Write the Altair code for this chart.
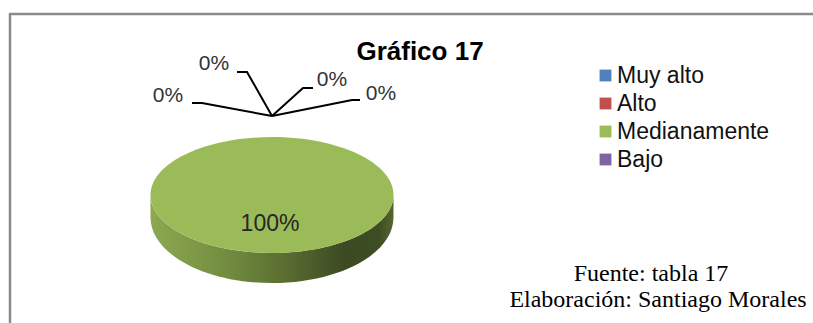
import altair as alt
import pandas as pd

# ---- data ----
categories = ["Muy alto", "Alto", "Medianamente", "Bajo", ""]
values = [0, 0, 100, 0, 0]
legend_categories = ["Muy alto", "Alto", "Medianamente", "Bajo"]
colors = ["#4F81BD", "#C0504D", "#9BBB59", "#8064A2"]

title_text = "Gráfico 17"
source_lines = ["Fuente: tabla 17", "Elaboración: Santiago Morales"]

# ---- layout (pixels) ----
W, H = 813, 323
cx, cy = 272, 195          # centre of the pie's top face
pie_w = 243                # width of the pie
label_x = [214, 332, 270, 381, 168]
label_y = [64, 80, 224, 94, 96]
anchor = (272, 116)
elbow_x = [247, 303, None, 352, 202]
elbow_y = [72, 88, None, 100, 103]
end_x = [237, 313, None, 360, 192]
end_y = [72, 88, None, 100, 103]

df = pd.DataFrame({"category": categories, "value": values,
                   "lx": label_x, "ly": label_y})
df["pct"] = (df["value"] / df["value"].sum() * 100).round().astype(int).astype(str) + "%"

# leader lines table
rows = []
for i, c in enumerate(categories):
    if elbow_x[i] is None:
        continue
    pts = [anchor, (elbow_x[i], elbow_y[i]), (end_x[i], end_y[i])]
    for k, (px, py) in enumerate(pts):
        rows.append({"id": i, "k": k, "x": px, "y": py})
lines_df = pd.DataFrame(rows)

top_path = "M -1 0 A 1 0.477 0 1 1 1 0 A 1 0.477 0 1 1 -1 0 Z"
side_path = "M -1 0 L -1 0.185 A 1 0.54 0 0 0 1 0.185 L 1 0 A 1 0.477 0 0 1 -1 0 Z"
size = pie_w * pie_w

side_grad = alt.Gradient(
    gradient="linear", x1=0, x2=1, y1=0, y2=0,
    stops=[
        alt.GradientStop(offset=0, color="#8DA851"),
        alt.GradientStop(offset=0.3, color="#748E40"),
        alt.GradientStop(offset=0.55, color="#5A6E31"),
        alt.GradientStop(offset=0.8, color="#3C4A22"),
        alt.GradientStop(offset=0.94, color="#3F4D24"),
        alt.GradientStop(offset=1, color="#56672F"),
    ],
)

base = alt.Chart(df)

border = alt.Chart(pd.DataFrame({"x": [9, 10], "x2": [W, 10], "y": [14, 13], "y2": [14, H]})).mark_rule(
    color="#8a8a8a", strokeWidth=2.5
).encode(
    x=alt.X("x:Q", scale=None), x2="x2:Q",
    y=alt.Y("y:Q", scale=None), y2="y2:Q",
)

side = base.transform_filter("datum.value > 0").mark_point(
    shape=side_path, size=size, filled=True, fill=side_grad, opacity=1, strokeWidth=0
).encode(x=alt.value(cx), y=alt.value(cy))

top = base.transform_filter("datum.value > 0").mark_point(
    shape=top_path, size=size, filled=True, opacity=1, strokeWidth=0
).encode(
    x=alt.value(cx), y=alt.value(cy),
    color=alt.Color(
        "category:N",
        scale=alt.Scale(domain=legend_categories, range=colors),
        legend=alt.Legend(
            title=None, orient="none", legendX=594, legendY=64,
            symbolType="square", symbolSize=140, symbolStrokeWidth=0, symbolOpacity=1,
            labelFont="Liberation Sans", labelFontSize=23, labelColor="#111111",
            labelLimit=0, rowPadding=4, labelOffset=0, padding=0,
        ),
    ),
)

leaders = alt.Chart(lines_df).mark_line(color="#000000", strokeWidth=2).encode(
    x=alt.X("x:Q", scale=None), y=alt.Y("y:Q", scale=None),
    detail="id:N", order="k:Q",
)

zero_labels = base.transform_filter("datum.value == 0").mark_text(
    font="Liberation Sans", fontSize=21, color="#333333", baseline="middle", align="center"
).encode(x=alt.X("lx:Q", scale=None), y=alt.Y("ly:Q", scale=None), text="pct:N")

main_label = base.transform_filter("datum.value > 0").mark_text(
    font="Liberation Sans", fontSize=23, color="#262626", baseline="middle", align="center"
).encode(x=alt.X("lx:Q", scale=None), y=alt.Y("ly:Q", scale=None), text="pct:N")

title = alt.Chart(pd.DataFrame({"t": [title_text]})).mark_text(
    font="Liberation Sans", fontSize=26, fontWeight="bold", color="#000000",
    baseline="alphabetic", align="center"
).encode(x=alt.value(420), y=alt.value(60), text="t:N")

src = alt.Chart(pd.DataFrame({"t": source_lines, "x": [651, 658], "y": [281, 307]})).mark_text(
    font="Liberation Serif", fontSize=24, color="#000000", baseline="alphabetic", align="center"
).encode(x=alt.X("x:Q", scale=None), y=alt.Y("y:Q", scale=None), text="t:N")

chart = alt.layer(border, side, top, leaders, zero_labels, main_label, title, src).properties(
    width=W, height=H, padding=0, autosize="none", background="#ffffff"
).configure_view(stroke=None)

chart.save("out.html", embed_options={"renderer": "svg", "actions": False})
